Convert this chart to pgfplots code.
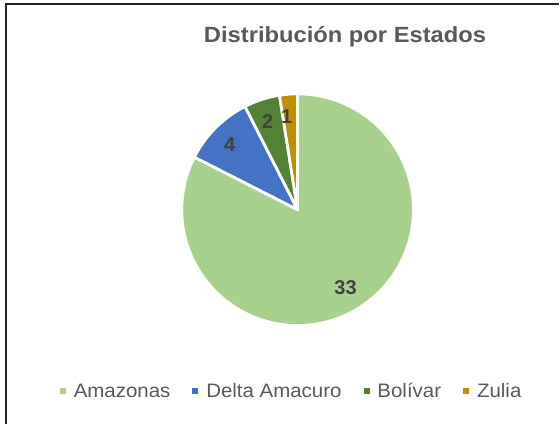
\documentclass[border=0pt]{standalone}
\usepackage{pgfplots}
\pgfplotsset{compat=1.18}
\usepackage{fontspec}
\setmainfont{Liberation Sans}
\newfontfamily\titlefont[FakeStretch=1.08]{Liberation Sans}
\newfontfamily\legfont[FakeStretch=1.05]{Liberation Sans}
\definecolor{cAma}{HTML}{A9D18E}
\definecolor{cDel}{HTML}{4472C4}
\definecolor{cBol}{HTML}{548235}
\definecolor{cZul}{HTML}{BF9000}
\definecolor{txt}{HTML}{595959}
\definecolor{lab}{HTML}{404040}
\begin{document}
\begin{tikzpicture}
% values
\def\vA{33}\def\vB{4}\def\vC{2}\def\vD{1}
\pgfmathsetmacro\tot{\vA+\vB+\vC+\vD}
\pgfmathsetmacro\aS{90}
\pgfmathsetmacro\aA{90-360*\vA/\tot}
\pgfmathsetmacro\aB{\aA-360*\vB/\tot}
\pgfmathsetmacro\aC{\aB-360*\vC/\tot}
\pgfmathsetmacro\aD{\aC-360*\vD/\tot}
\begin{axis}[width=560pt,height=425pt,scale only axis,
  xmin=0,xmax=560,ymin=0,ymax=425,hide axis,clip=false,
  legend columns=4,
  legend image code/.code={\fill[#1,draw=none] (0pt,-3pt) rectangle (6pt,3pt);},
  legend style={at={(axis cs:291,33)},anchor=center,draw=none,fill=none,
    font=\legfont\fontsize{19.5}{22}\selectfont,text=txt,
    nodes={inner sep=0pt},
    /tikz/every odd column/.append style={column sep=8pt},
    /tikz/every even column/.append style={column sep=22pt}},
  legend cell align=left]
\path (axis cs:0,0) rectangle (axis cs:560,425);
\addplot[fill=cAma,draw=white,line width=2.8pt,line join=round,domain=\aA:\aS,samples=120,variable=\t]
  ({298+116*cos(\t)},{215+116*sin(\t)}) -- (axis cs:298,215) -- cycle;
\addlegendentry{Amazonas}
\addplot[fill=cDel,draw=white,line width=2.8pt,line join=round,domain=\aB:\aA,samples=30,variable=\t]
  ({298+116*cos(\t)},{215+116*sin(\t)}) -- (axis cs:298,215) -- cycle;
\addlegendentry{Delta Amacuro}
\addplot[fill=cBol,draw=white,line width=2.8pt,line join=round,domain=\aC:\aB,samples=20,variable=\t]
  ({298+116*cos(\t)},{215+116*sin(\t)}) -- (axis cs:298,215) -- cycle;
\addlegendentry{Bolívar}
\addplot[fill=cZul,draw=white,line width=2.8pt,line join=round,domain=\aD:\aC,samples=12,variable=\t]
  ({298+116*cos(\t)},{215+116*sin(\t)}) -- (axis cs:298,215) -- cycle;
\addlegendentry{Zulia}
\node[font=\titlefont\bfseries\fontsize{22}{24}\selectfont,text=txt,anchor=base] at (axis cs:345.5,382) {Distribución por Estados};
\node[font=\bfseries\fontsize{20}{22}\selectfont,text=lab] at (axis cs:346,137) {33};
\node[font=\bfseries\fontsize{20}{22}\selectfont,text=lab] at (axis cs:230,280) {4};
\node[font=\bfseries\fontsize{20}{22}\selectfont,text=lab] at (axis cs:268,303) {2};
\node[font=\bfseries\fontsize{20}{22}\selectfont,text=lab] at (axis cs:287,308) {1};
\draw[line width=1.6pt,color=black!85] (axis cs:6,0) -- (axis cs:6,421) -- (axis cs:560,421);
\end{axis}
\end{tikzpicture}
\end{document}
